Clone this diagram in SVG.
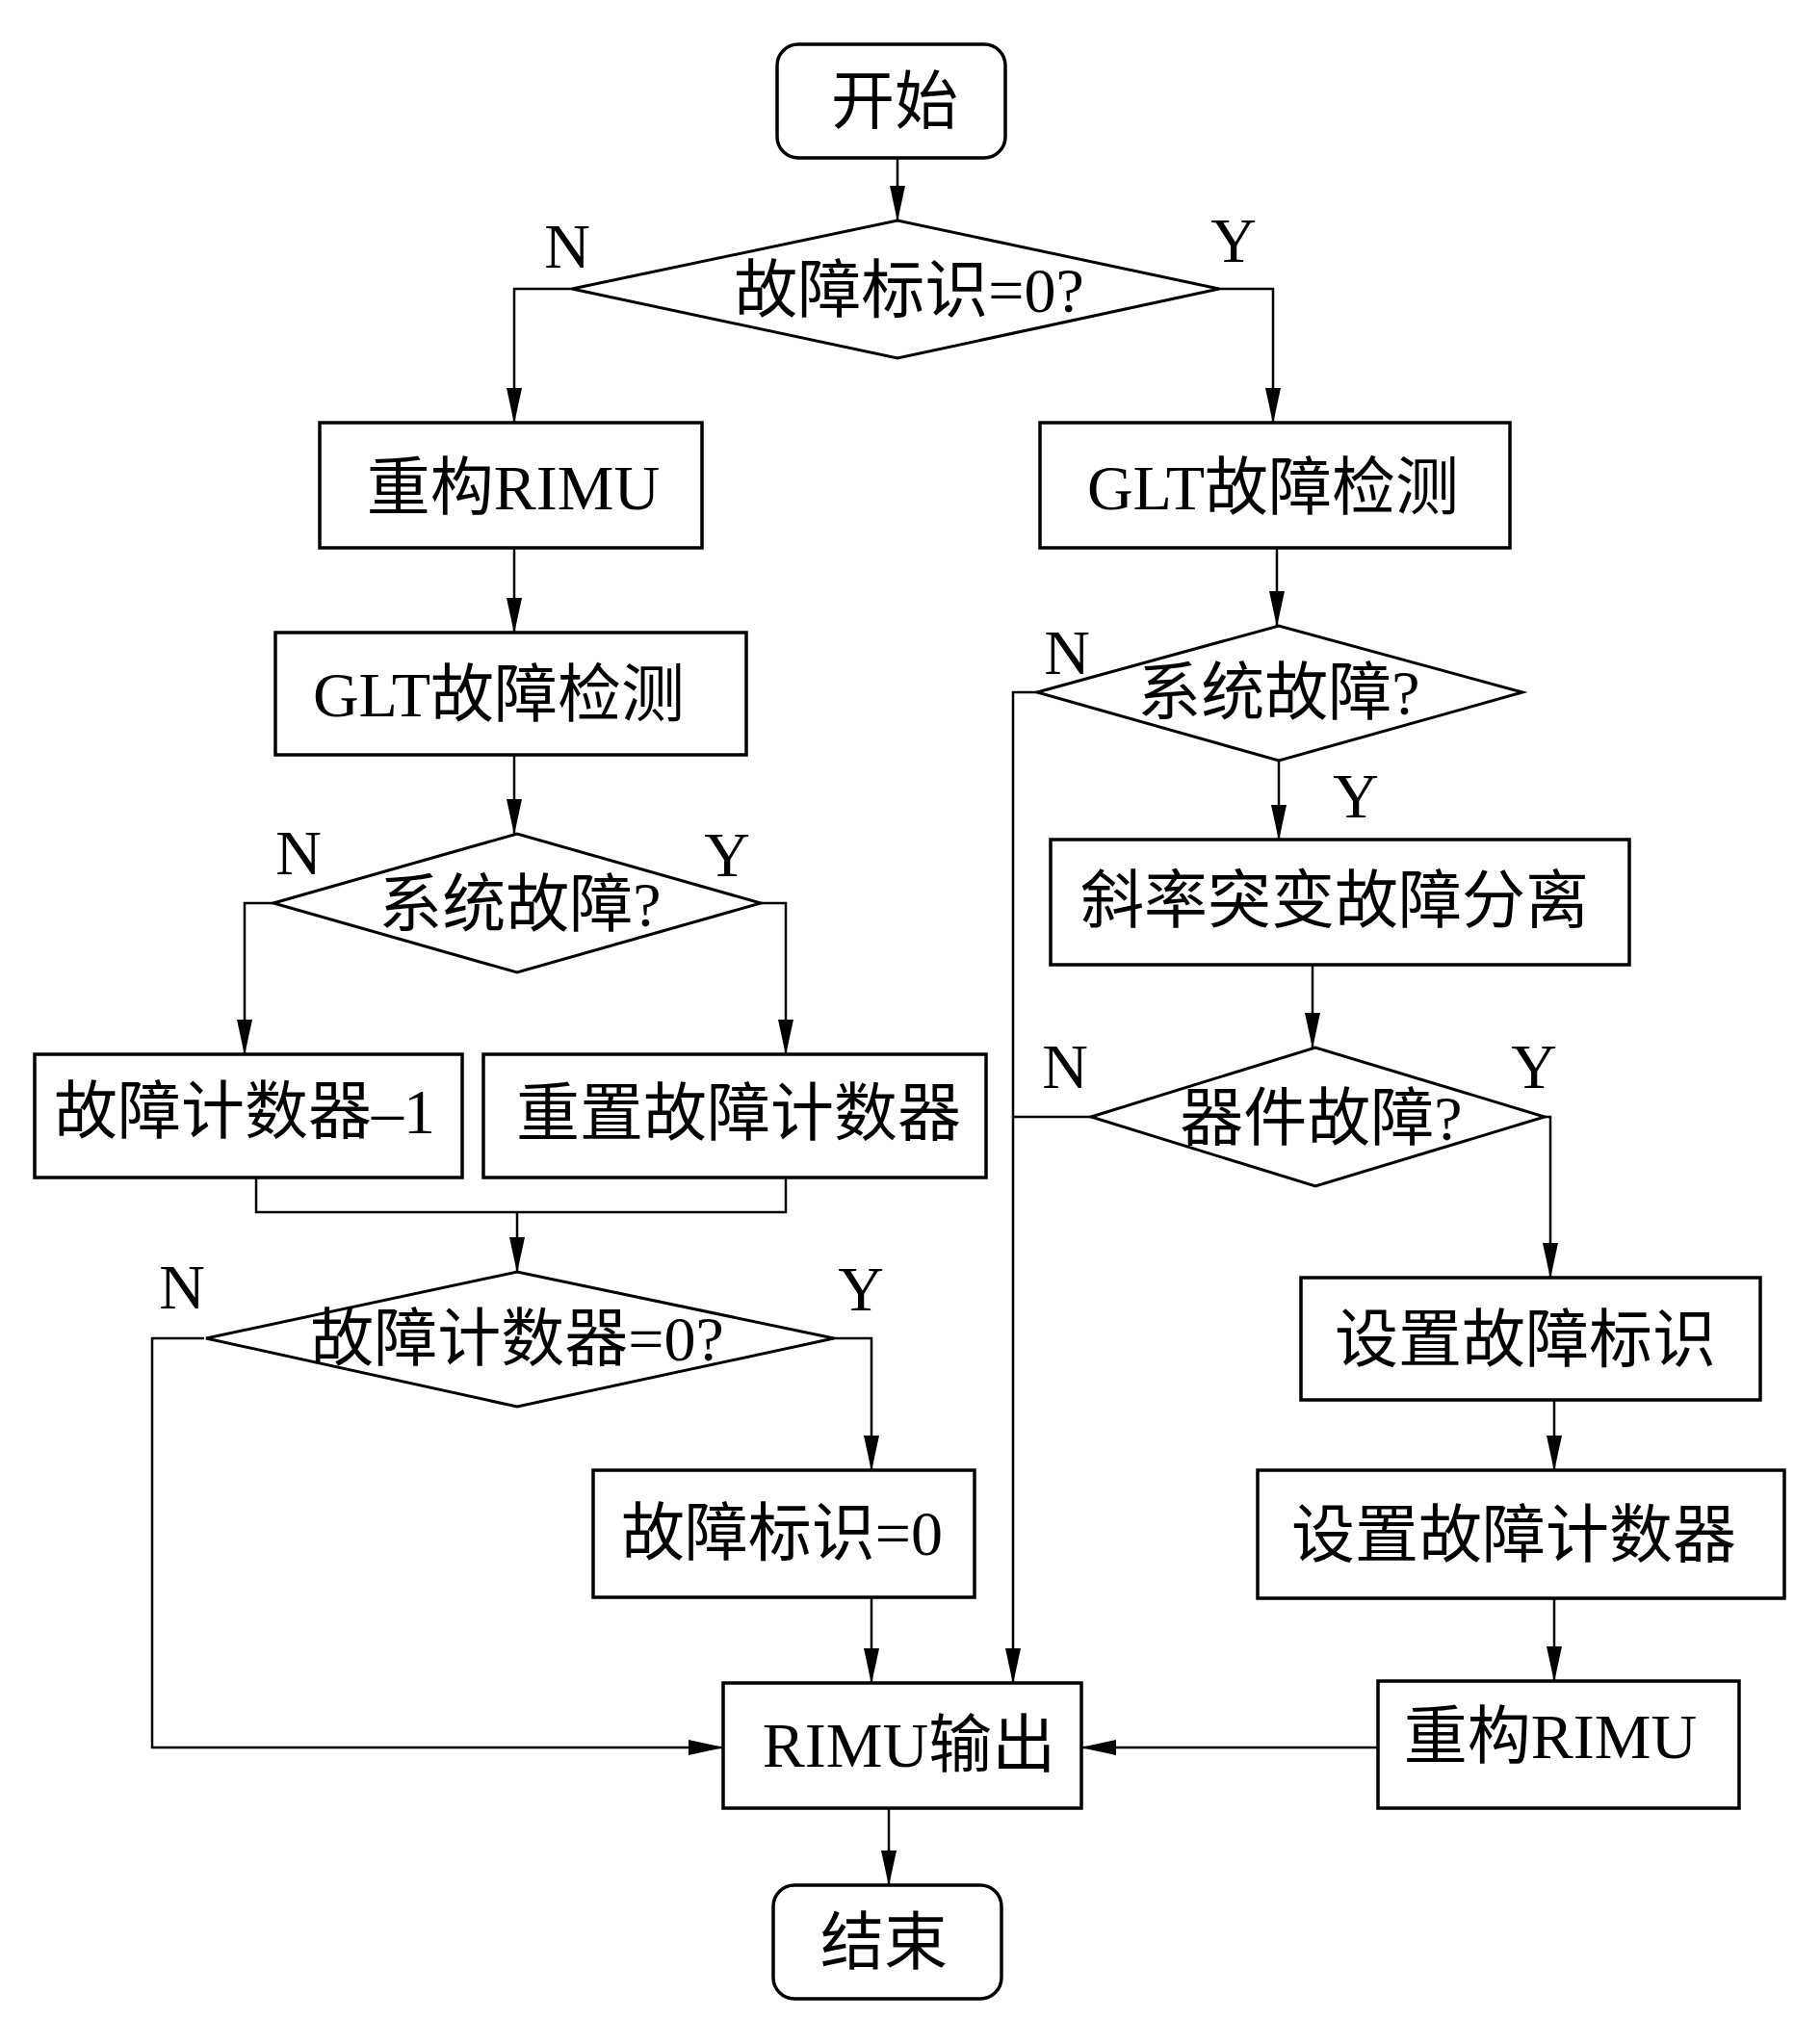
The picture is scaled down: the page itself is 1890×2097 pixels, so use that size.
<svg xmlns="http://www.w3.org/2000/svg" width="1890" height="2097" viewBox="0 0 1890 2097">
<defs>
<marker id="ah" markerUnits="userSpaceOnUse" markerWidth="38" markerHeight="16" refX="36" refY="8" orient="auto">
<path d="M0,0 L37,8 L0,16 z" fill="#000"/>
</marker>
<style>
.box{fill:#fff;stroke:#000;stroke-width:3.5}
.dia{fill:#fff;stroke:#000;stroke-width:3}
.ln{fill:none;stroke:#000;stroke-width:2.5}
.arr{fill:none;stroke:#000;stroke-width:2.5;marker-end:url(#ah)}
.t{font-family:"Liberation Serif","Noto Sans CJK SC",serif;font-size:66px;text-anchor:middle;fill:#000}
</style>
</defs>
<rect width="1890" height="2097" fill="#fff"/>
<g id="connectors">
<path class="arr" d="M932,164 V229"/>
<path class="arr" d="M594,300 H534 V439"/>
<path class="arr" d="M1266,300 H1322 V439"/>
<path class="arr" d="M534,569 V657"/>
<path class="arr" d="M534,784 V866"/>
<path class="arr" d="M284,938 H254 V1095"/>
<path class="arr" d="M790,938 H816 V1095"/>
<path class="ln" d="M266,1223 V1259 H816 V1223"/>
<path class="arr" d="M537,1259 V1321"/>
<path class="arr" d="M212,1390 H158 V1815 H751"/>
<path class="arr" d="M862,1390 H905 V1527"/>
<path class="arr" d="M905,1659 V1748"/>
<path class="arr" d="M923,1878 V1958"/>
<path class="arr" d="M1326,569 V650"/>
<path class="arr" d="M1077,719 H1052 V1748"/>
<path class="arr" d="M1328,790 V872"/>
<path class="arr" d="M1363,1002 V1088"/>
<path class="ln" d="M1133,1160 H1052"/>
<path class="arr" d="M1604,1160 H1610 V1327"/>
<path class="arr" d="M1614,1454 V1527"/>
<path class="arr" d="M1614,1660 V1746"/>
<path class="arr" d="M1431,1815 H1123"/>
</g>
<g id="labels">
<text class="t" x="589" y="278">N</text>
<text class="t" x="1281" y="272">Y</text>
<text class="t" x="310" y="908">N</text>
<text class="t" x="755" y="910">Y</text>
<text class="t" x="189" y="1359">N</text>
<text class="t" x="894" y="1361">Y</text>
<text class="t" x="1108" y="700">N</text>
<text class="t" x="1408" y="849">Y</text>
<text class="t" x="1106" y="1130">N</text>
<text class="t" x="1593" y="1130">Y</text>
</g>
<g id="start"><rect class="box" x="807" y="46" width="237" height="118" rx="22"/><text class="t" x="929" y="128">开始</text></g>
<g id="d1"><polygon class="dia" points="594,300 932,229 1266,300 932,372"/><text class="t" x="944" y="324">故障标识=0?</text></g>
<g id="b_rebuild_l"><rect class="box" x="332" y="439" width="397" height="130"/><text class="t" x="533" y="529">重构RIMU</text></g>
<g id="b_glt_r"><rect class="box" x="1080" y="439" width="488" height="130"/><text class="t" x="1322" y="529">GLT故障检测</text></g>
<g id="b_glt_l"><rect class="box" x="286" y="657" width="489" height="127"/><text class="t" x="518" y="744">GLT故障检测</text></g>
<g id="d2"><polygon class="dia" points="284,938 537,866 790,938 537,1010"/><text class="t" x="540" y="962">系统故障?</text></g>
<g id="b_cnt_dec"><rect class="box" x="36" y="1095" width="444" height="128"/><text class="t" x="254" y="1177">故障计数器–1</text></g>
<g id="b_cnt_reset"><rect class="box" x="502" y="1095" width="522" height="128"/><text class="t" x="767" y="1179">重置故障计数器</text></g>
<g id="d3"><polygon class="dia" points="214,1390 537,1321 866,1390 537,1461"/><text class="t" x="537" y="1413">故障计数器=0?</text></g>
<g id="b_flag0"><rect class="box" x="616" y="1527" width="396" height="132"/><text class="t" x="812" y="1615">故障标识=0</text></g>
<g id="b_out"><rect class="box" x="751" y="1748" width="372" height="130"/><text class="t" x="944" y="1835">RIMU输出</text></g>
<g id="end"><rect class="box" x="803" y="1958" width="237" height="118" rx="22"/><text class="t" x="918" y="2040">结束</text></g>
<g id="d4"><polygon class="dia" points="1077,719 1328,650 1581,719 1328,790"/><text class="t" x="1328" y="742">系统故障?</text></g>
<g id="b_slope"><rect class="box" x="1091" y="872" width="601" height="130"/><text class="t" x="1386" y="958">斜率突变故障分离</text></g>
<g id="d5"><polygon class="dia" points="1133,1160 1366,1088 1604,1160 1366,1232"/><text class="t" x="1372" y="1184">器件故障?</text></g>
<g id="b_setflag"><rect class="box" x="1351" y="1327" width="477" height="127"/><text class="t" x="1584" y="1414">设置故障标识</text></g>
<g id="b_setcnt"><rect class="box" x="1306" y="1527" width="547" height="133"/><text class="t" x="1572" y="1617">设置故障计数器</text></g>
<g id="b_rebuild_r"><rect class="box" x="1431" y="1746" width="375" height="132"/><text class="t" x="1610" y="1826">重构RIMU</text></g>
</svg>
